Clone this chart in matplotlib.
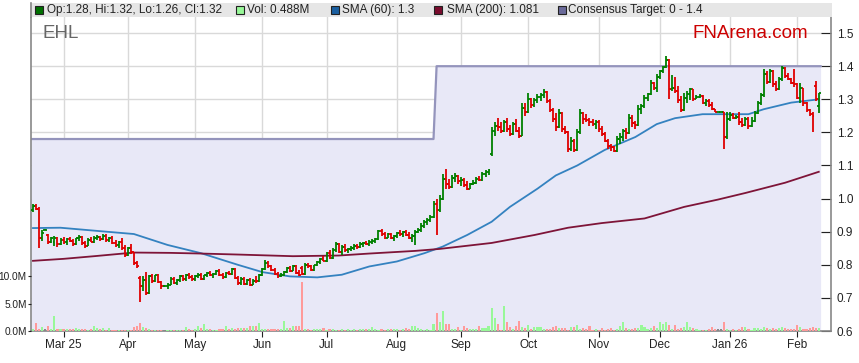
import matplotlib
matplotlib.use("Agg")
import matplotlib.pyplot as plt
from matplotlib.patches import Rectangle
from matplotlib.lines import Line2D
import numpy as np
import pandas as pd

plt.rcParams['font.family'] = ['Liberation Sans', 'DejaVu Sans']

# first trading day shown
start_date = "2025-02-17"

opens = [
    .965, .978, .970, .880, .905, .890, .868, .870, .882, .862,
    .875, .868, .878, .872, .862, .880, .885, .865, .858, .876,
    .870, .882, .885, .878, .888, .875, .882, .866, .860, .868,
    .850, .830, .850, .838, .805, .760, .735, .755, .715, .765,
    .750, .768, .748, .735, .735, .740, .758, .745, .755, .765,
    .756, .768, .762, .756, .765, .770, .758, .768, .775, .768,
    .772, .782, .768, .762, .775, .772, .788, .760, .745, .758,
    .742, .755, .740, .752, .750, .768, .786, .805, .795, .785,
    .772, .765, .770, .778, .790, .782, .795, .775, .790, .772,
    .800, .795, .785, .798, .808, .818, .812, .835, .822, .845,
    .862, .840, .855, .845, .848, .852, .858, .855, .862, .866,
    .864, .870, .872, .878, .902, .892, .882, .892, .880, .886,
    .896, .892, .898, .890, .882, .888, .900, .905, .918, .930,
    .935, .945, .985, .965, 1.000, 1.060, 1.045, 1.035, 1.062, 1.068,
    1.052, 1.055, 1.040, 1.030, 1.045, 1.048, 1.060, 1.055, 1.075, 1.080,
    1.135, 1.205, 1.220, 1.215, 1.205, 1.230, 1.210, 1.195, 1.225, 1.205,
    1.190, 1.275, 1.262, 1.300, 1.282, 1.298, 1.308, 1.312, 1.322, 1.295,
    1.268, 1.240, 1.215, 1.258, 1.210, 1.200, 1.150, 1.175, 1.148, 1.200,
    1.258, 1.240, 1.236, 1.230, 1.225, 1.232, 1.210, 1.195, 1.175, 1.158,
    1.155, 1.145, 1.180, 1.185, 1.205, 1.198, 1.245, 1.228, 1.222, 1.270,
    1.280, 1.305, 1.315, 1.350, 1.335, 1.368, 1.385, 1.398, 1.420, 1.330,
    1.335, 1.325, 1.298, 1.268, 1.305, 1.315, 1.330, 1.302, 1.308, 1.310,
    1.290, 1.295, 1.282, 1.272, 1.262, 1.262, 1.262, 1.185, 1.240, 1.252,
    1.245, 1.248, 1.230, 1.222, 1.240, 1.218, 1.235, 1.258, 1.288, 1.312,
    1.375, 1.352, 1.385, 1.345, 1.330, 1.360, 1.395, 1.370, 1.362, 1.350,
    1.345, 1.305, 1.335, 1.290, 1.268, 1.255, 1.340, 1.280,
]
highs = [
    .985, .985, .975, .905, .908, .892, .885, .888, .885, .880,
    .885, .880, .885, .878, .882, .890, .888, .872, .880, .884,
    .886, .890, .888, .892, .892, .885, .886, .875, .872, .880,
    .860, .855, .862, .840, .812, .765, .765, .778, .768, .772,
    .770, .772, .752, .740, .745, .762, .762, .758, .768, .770,
    .772, .775, .770, .768, .775, .776, .770, .778, .780, .775,
    .785, .786, .775, .778, .782, .790, .790, .765, .762, .762,
    .758, .760, .758, .765, .772, .790, .815, .810, .800, .790,
    .778, .775, .782, .792, .796, .798, .800, .785, .795, .805,
    .806, .800, .800, .812, .822, .828, .840, .845, .850, .868,
    .866, .860, .862, .852, .858, .862, .864, .868, .870, .872,
    .875, .878, .882, .905, .908, .900, .895, .896, .890, .900,
    .905, .902, .905, .898, .892, .905, .912, .925, .935, .940,
    .950, .992, 1.000, 1.010, 1.075, 1.090, 1.060, 1.070, 1.078, 1.072,
    1.065, 1.062, 1.052, 1.048, 1.055, 1.065, 1.068, 1.080, 1.085, 1.090,
    1.215, 1.230, 1.245, 1.232, 1.238, 1.245, 1.222, 1.230, 1.240, 1.215,
    1.290, 1.290, 1.320, 1.305, 1.305, 1.315, 1.318, 1.330, 1.325, 1.300,
    1.275, 1.260, 1.270, 1.262, 1.220, 1.205, 1.185, 1.180, 1.210, 1.270,
    1.262, 1.255, 1.245, 1.240, 1.238, 1.236, 1.220, 1.200, 1.180, 1.165,
    1.160, 1.190, 1.198, 1.210, 1.212, 1.255, 1.252, 1.235, 1.282, 1.285,
    1.312, 1.320, 1.358, 1.352, 1.375, 1.390, 1.402, 1.432, 1.422, 1.372,
    1.368, 1.340, 1.310, 1.318, 1.325, 1.335, 1.332, 1.312, 1.315, 1.312,
    1.300, 1.300, 1.292, 1.272, 1.262, 1.262, 1.262, 1.262, 1.262, 1.258,
    1.252, 1.262, 1.242, 1.248, 1.248, 1.248, 1.265, 1.295, 1.320, 1.392,
    1.385, 1.392, 1.388, 1.355, 1.368, 1.402, 1.398, 1.378, 1.365, 1.392,
    1.350, 1.348, 1.335, 1.292, 1.270, 1.262, 1.355, 1.320,
]
lows = [
    .960, .965, .850, .872, .905, .862, .865, .858, .855, .860,
    .862, .860, .870, .858, .860, .872, .860, .852, .856, .868,
    .866, .875, .872, .874, .870, .868, .862, .855, .852, .845,
    .825, .828, .832, .800, .790, .688, .720, .710, .712, .745,
    .748, .745, .728, .732, .728, .738, .742, .740, .748, .752,
    .750, .758, .752, .750, .760, .755, .755, .762, .765, .760,
    .770, .765, .758, .760, .768, .770, .758, .740, .740, .738,
    .740, .735, .738, .745, .748, .765, .784, .790, .780, .770,
    .760, .762, .765, .775, .778, .780, .772, .765, .768, .770,
    .790, .780, .782, .795, .802, .810, .808, .818, .818, .840,
    .835, .830, .840, .835, .842, .845, .848, .850, .855, .860,
    .858, .862, .866, .876, .888, .878, .880, .878, .872, .880,
    .888, .885, .888, .878, .870, .860, .895, .900, .912, .920,
    .930, .940, .890, .960, .995, 1.030, 1.030, 1.032, 1.050, 1.045,
    1.038, 1.035, 1.025, 1.028, 1.040, 1.045, 1.052, 1.052, 1.065, 1.070,
    1.130, 1.190, 1.205, 1.198, 1.200, 1.200, 1.190, 1.192, 1.200, 1.182,
    1.188, 1.250, 1.258, 1.275, 1.278, 1.290, 1.296, 1.305, 1.290, 1.262,
    1.232, 1.205, 1.212, 1.200, 1.195, 1.140, 1.145, 1.140, 1.145, 1.195,
    1.225, 1.230, 1.220, 1.220, 1.210, 1.200, 1.188, 1.170, 1.150, 1.145,
    1.140, 1.142, 1.165, 1.175, 1.180, 1.195, 1.215, 1.210, 1.220, 1.255,
    1.275, 1.295, 1.312, 1.328, 1.322, 1.362, 1.378, 1.395, 1.302, 1.325,
    1.320, 1.290, 1.262, 1.265, 1.290, 1.298, 1.295, 1.300, 1.305, 1.285,
    1.280, 1.278, 1.268, 1.262, 1.262, 1.262, 1.150, 1.180, 1.235, 1.240,
    1.240, 1.222, 1.215, 1.218, 1.210, 1.215, 1.232, 1.255, 1.282, 1.308,
    1.345, 1.348, 1.338, 1.325, 1.328, 1.355, 1.365, 1.358, 1.345, 1.338,
    1.300, 1.290, 1.280, 1.262, 1.250, 1.200, 1.295, 1.260,
]
closes = [
    .978, .970, .880, .895, .905, .868, .880, .882, .862, .875,
    .868, .878, .872, .862, .880, .885, .865, .858, .876, .870,
    .882, .885, .878, .888, .875, .882, .866, .860, .868, .850,
    .830, .850, .838, .805, .795, .735, .755, .715, .765, .750,
    .768, .748, .735, .735, .740, .758, .745, .755, .765, .756,
    .768, .762, .756, .765, .770, .758, .768, .775, .768, .772,
    .782, .768, .762, .775, .772, .788, .760, .745, .758, .742,
    .755, .740, .752, .750, .768, .786, .805, .795, .785, .772,
    .765, .770, .778, .790, .782, .795, .775, .770, .772, .800,
    .795, .785, .798, .808, .818, .812, .835, .822, .845, .862,
    .840, .855, .845, .848, .852, .858, .855, .862, .866, .864,
    .870, .872, .878, .902, .892, .882, .892, .880, .886, .896,
    .892, .898, .890, .882, .888, .900, .905, .918, .930, .935,
    .945, .985, .965, 1.000, 1.060, 1.045, 1.035, 1.062, 1.068, 1.052,
    1.055, 1.040, 1.030, 1.045, 1.048, 1.060, 1.055, 1.075, 1.080, 1.085,
    1.205, 1.220, 1.215, 1.205, 1.230, 1.210, 1.195, 1.225, 1.205, 1.190,
    1.275, 1.262, 1.300, 1.282, 1.298, 1.308, 1.312, 1.322, 1.295, 1.268,
    1.240, 1.215, 1.258, 1.210, 1.200, 1.150, 1.175, 1.148, 1.200, 1.258,
    1.240, 1.236, 1.230, 1.225, 1.232, 1.210, 1.195, 1.175, 1.158, 1.155,
    1.145, 1.180, 1.185, 1.205, 1.198, 1.245, 1.228, 1.222, 1.270, 1.280,
    1.305, 1.315, 1.350, 1.335, 1.368, 1.385, 1.398, 1.420, 1.330, 1.335,
    1.325, 1.298, 1.268, 1.305, 1.315, 1.330, 1.302, 1.308, 1.310, 1.290,
    1.295, 1.282, 1.272, 1.262, 1.262, 1.262, 1.185, 1.240, 1.252, 1.245,
    1.248, 1.230, 1.222, 1.240, 1.218, 1.235, 1.258, 1.288, 1.312, 1.375,
    1.352, 1.385, 1.345, 1.330, 1.360, 1.395, 1.370, 1.362, 1.350, 1.345,
    1.305, 1.335, 1.290, 1.268, 1.255, 1.250, 1.300, 1.320,
]
# volume in millions
volumes = [
    .3, 1.4, .3, .7, .3, 1.0, .3, 2.8, .3, .3,
    .3, .3, .3, .3, .5, .4, .4, .4, .2, .3,
    1.0, .5, .3, .5, .2, .6, .2, .2, .2, .2,
    .2, .1, .1, .7, .9, 1.4, .7, .5, .3, .2,
    .2, .2, .1, .1, .2, .2, .1, .1, .1, .2,
    .7, .3, .2, .4, .85, .6, 1.2, .4, .4, .2,
    .2, .3, .3, 1.0, .4, .5, .4, .5, .5, .5,
    .5, .85, .85, 1.0, 1.45, .4, .3, .3, .3, .3,
    .3, .3, 1.9, .6, .5, .85, .85, .85, 8.9, .3,
    .3, .2, .3, .3, .3, .5, .2, .3, .3, .2,
    .2, .3, .2, .3, .2, .3, .2, .3, .4, .3,
    .3, .7, .3, .2, .3, .2, .3, .4, .3, .3,
    .2, .3, .5, .3, .9, .9, .6, .3, .2, .4,
    .2, 1.3, 3.3, 1.6, 3.7, 1.3, 1.3, .4, .4, .7,
    .2, 1.0, .5, .4, .4, .4, 1.0, .6, .6, 1.0,
    4.2, 2.4, 1.3, .2, 4.6, 1.7, .8, .4, 1.0, 1.9,
    .8, .5, 1.1, .4, .8, .8, .8, .4, .4, .4,
    .8, 1.0, .6, .6, .6, .2, .8, .8, 1.1, .4,
    .6, .4, 1.0, .2, .4, .2, .6, .2, .4, .6,
    .2, .4, 1.0, 1.6, .6, .4, .4, .6, .5, 1.1,
    .8, .4, .6, 1.0, .6, 1.7, 1.2, 1.6, 1.1, .4,
    1.1, .4, .6, .8, 1.7, .8, .6, .4, .2, .2,
    .2, .4, .8, .3, .3, .3, 1.7, .4, .2, .3,
    .2, .4, .8, .8, .4, .2, .5, .5, .3, .8,
    .6, .4, .6, .4, .5, .8, .5, .3, .4, .4,
    1.1, .8, .4, .4, .6, .8, .6, .488,
]

# moving averages (bar index, value)
sma60_idx = [0, 9, 24, 33, 44, 55, 67, 75, 84, 93, 101, 110, 119, 128, 134,
             142, 150, 156, 165, 171, 178, 187, 197, 204, 210, 219, 234, 239,
             248, 257]
sma60_val = [.911, .912, .900, .893, .860, .835, .800, .778, .765, .762, .770,
             .795, .810, .835, .855, .890, .930, .975, 1.030, 1.070, 1.100,
             1.147, 1.186, 1.225, 1.243, 1.255, 1.255, 1.270, 1.290, 1.300]
sma200_idx = [0, 10, 20, 33, 45, 55, 67, 85, 100, 110, 125, 133, 150, 164, 175,
              186, 200, 213, 224, 233, 246, 257]
sma200_val = [.812, .818, .826, .837, .836, .834, .831, .826, .828, .834, .842,
              .848, .866, .890, .912, .926, .940, .975, .997, 1.017, 1.048, 1.081]

# consensus target: level before / after the change date
target_levels = [1.18, 1.40]
target_change = "2025-08-20"

month_labels = ["Mar 25", "Apr", "May", "Jun", "Jul", "Aug", "Sep", "Oct",
                "Nov", "Dec", "Jan 26", "Feb"]
price_ticks = [0.6, 0.7, 0.8, 0.9, 1.0, 1.1, 1.2, 1.3, 1.4, 1.5]
vol_ticks = [0, 5, 10]

legend_texts = ["Op:1.28, Hi:1.32, Lo:1.26, Cl:1.32", "Vol: 0.488M",
                "SMA (60): 1.3", "SMA (200): 1.081", "Consensus Target: 0 - 1.4"]

o = np.array(opens)
h = np.array(highs)
l = np.array(lows)
c = np.array(closes)
v = np.array(volumes)
n = len(c)
x = np.arange(n)
dates = pd.bdate_range(start_date, periods=n)

months = dates.to_period("M")
month_pos = [i for i in range(1, n) if months[i] != months[i - 1]]

W, H = 859, 363
fig = plt.figure(figsize=(W / 100, H / 100), dpi=100)
ax = fig.add_axes([31 / W, 32 / H, 800 / W, 314 / H])
xmin, xmax = -0.65, 261.0
ax.set_xlim(xmin, xmax)
ax.set_ylim(0.6, 0.6 + 314 / 331)

# grid
ax.set_axisbelow(True)
ax.set_xticks(month_pos)
ax.set_xticklabels(month_labels)
ax.set_yticks(price_ticks)
ax.set_yticklabels([f"{t:.1f}" for t in price_ticks])
ax.grid(color="#d9d9d9", lw=1)

# consensus target area
ci = dates.get_loc(pd.Timestamp(target_change))
fill_end = n - 0.4
tx = [xmin, ci - 1, ci, fill_end]
ty = [target_levels[0], target_levels[0], target_levels[1], target_levels[1]]
ax.fill_between(tx, ty, 0.6, color="#e8e8f7", lw=0, zorder=1)
ax.plot(tx, ty, color="#9494bc", lw=1.6, zorder=2)

# moving averages
ax.plot(sma60_idx, sma60_val, color="#3482c0", lw=1.3, zorder=3)
ax.plot(sma200_idx, sma200_val, color="#7e1438", lw=1.3, zorder=3)

# OHLC bars
up = c >= o
bar_col = np.where(up, "#008000", "#e00000")
ax.vlines(x, l, h, colors=bar_col, lw=1.3, zorder=4)
ax.hlines(o, x - 0.6, x, colors=bar_col, lw=1.3, zorder=4)
ax.hlines(c, x, x + 0.6, colors=bar_col, lw=1.3, zorder=4)

# volume
axv = ax.twinx()
axv.set_ylim(0, 314 / 55 * 10)
vol_col = np.where(c > o, "#98f898", np.where(c < o, "#ff9a9a", "#888888"))
axv.bar(x, v, width=0.7, color=vol_col, zorder=2)
axv.set_yticks(vol_ticks)
axv.set_yticklabels([f"{t:.1f}M" for t in vol_ticks])
axv.yaxis.tick_left()
axv.tick_params(axis="y", direction="out", length=2.5, labelsize=7.3, pad=0.5,
                colors="#222222")
for s in axv.spines.values():
    s.set_visible(False)

ax.yaxis.tick_right()
ax.tick_params(axis="y", direction="in", length=7, labelsize=8.5, pad=4,
               colors="#222222")
ax.tick_params(axis="x", direction="out", length=4, labelsize=8.5, pad=2,
               colors="#222222")
ax.spines["top"].set_visible(False)
for s in ["left", "right", "bottom"]:
    ax.spines[s].set_color("#888888")
    ax.spines[s].set_linewidth(1.2)

# legend band
fig.add_artist(Rectangle((30 / W, 1 - 17 / H), 802 / W, 14 / H,
                         transform=fig.transFigure, facecolor="#e6e6e6",
                         edgecolor="none"))
fig.add_artist(Line2D([30.5 / W, 30.5 / W], [1 - 3 / H, 1 - 17 / H],
                      transform=fig.transFigure, color="#888888", lw=1.2))
sq_x = [35, 236, 331, 434, 558]
txt_x = [47, 247, 342, 447, 568]
sq_col = ["#007000", "#98f898", "#1a5fa0", "#7a0c2e", "#6a6a9a"]
for sx, tx_, col, txt in zip(sq_x, txt_x, sq_col, legend_texts):
    fig.add_artist(Rectangle((sx / W, 1 - 14 / H), 8 / W, 8 / H,
                             transform=fig.transFigure, facecolor=col,
                             edgecolor="#222222", lw=0.8))
    fig.text(tx_ / W, 1 - 10 / H, txt, fontsize=8.5, color="#222222",
             va="center", ha="left")

fig.text(42 / W, 1 - 33 / H, "EHL", fontsize=13.5, color="#666666",
         va="center", ha="left")
fig.text(808 / W, 1 - 34 / H, "FNArena.com", fontsize=13.5, color="#cc0000",
         va="center", ha="right")

fig.savefig("out.png", dpi=100)
